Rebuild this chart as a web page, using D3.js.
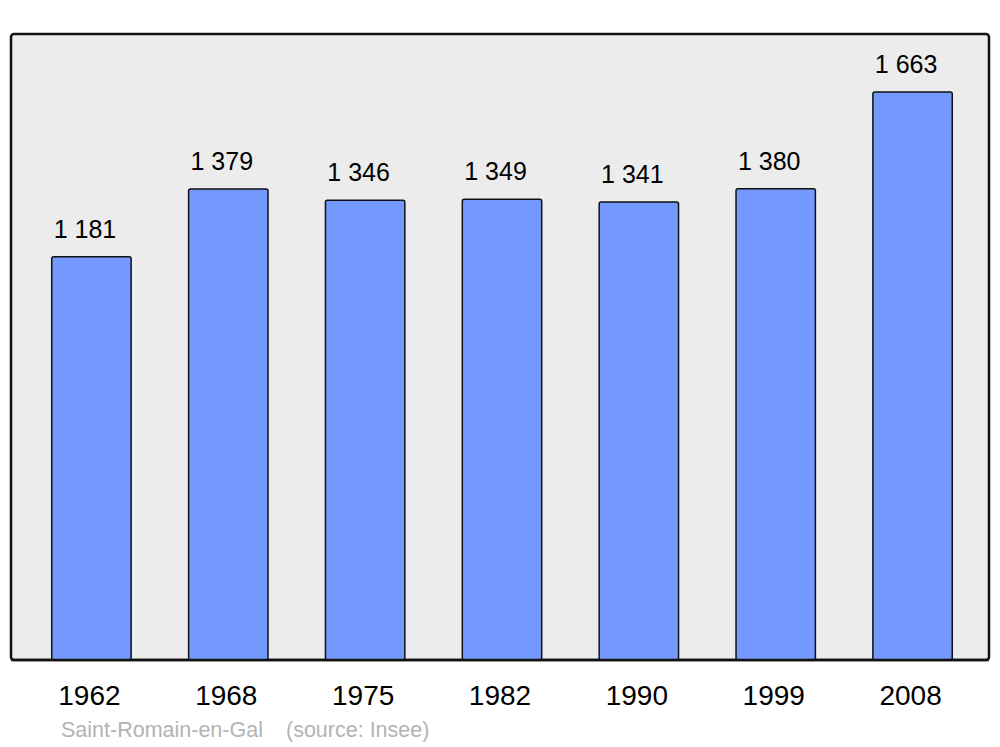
<!DOCTYPE html>
<html>
<head>
<meta charset="utf-8">
<script src="https://cdn.jsdelivr.net/npm/d3@7"></script>
<style>
html,body{margin:0;padding:0;background:#fff;}
svg{display:block;font-family:"Liberation Sans",Arial,sans-serif;}
</style>
</head>
<body>
<svg id="chart" width="1000" height="747"></svg>
<script>
const years = ["1962","1968","1975","1982","1990","1999","2008"];
const population = [1181,1379,1346,1349,1341,1380,1663];
const valueLabels = ["1 181","1 379","1 346","1 349","1 341","1 380","1 663"];
const townName = "Saint-Romain-en-Gal";
const sourceName = "(source: Insee)";

const svg = d3.select("#chart");
const frame = {left: 11, right: 989, top: 34, bottom: 660};

svg.append("rect")
  .attr("x", frame.left).attr("y", frame.top)
  .attr("width", frame.right - frame.left).attr("height", frame.bottom - frame.top)
  .attr("rx", 3).attr("ry", 3)
  .attr("fill", "#ececec").attr("stroke", "#111").attr("stroke-width", 2.5);

const x = d3.scaleBand().domain(years).range([23, 981]).paddingInner(0.42).paddingOuter(0.21);
const y = d3.scaleLinear().domain([0, 1833]).range([frame.bottom, frame.top]);

const data = years.map((yr, i) => ({year: yr, value: population[i], label: valueLabels[i]}));

svg.append("g").selectAll("rect").data(data).join("rect")
  .attr("x", d => x(d.year))
  .attr("y", d => y(d.value))
  .attr("width", x.bandwidth())
  .attr("height", d => y(0) - y(d.value))
  .attr("rx", 2).attr("ry", 2)
  .attr("fill", "#7399ff").attr("stroke", "#111").attr("stroke-width", 1.5);

svg.append("g").selectAll("text").data(data).join("text")
  .attr("x", d => x(d.year) + x.bandwidth() / 2 - 6.5)
  .attr("y", d => y(d.value) - 19)
  .attr("text-anchor", "middle")
  .attr("font-size", 25)
  .attr("fill", "#000")
  .text(d => d.label);

svg.append("line")
  .attr("x1", frame.left).attr("x2", frame.right)
  .attr("y1", frame.bottom).attr("y2", frame.bottom)
  .attr("stroke", "#111").attr("stroke-width", 2.5);

const xAxis = d3.axisBottom(x).tickSize(0).tickPadding(0);
const gx = svg.append("g").attr("transform", `translate(0,${frame.bottom})`).call(xAxis);
gx.select(".domain").remove();
gx.selectAll("text")
  .attr("x", -2)
  .attr("y", 45).attr("dy", null)
  .attr("font-size", 28)
  .attr("font-family", "Liberation Sans, Arial, sans-serif")
  .attr("fill", "#000");

svg.append("text")
  .attr("x", 61).attr("y", 737)
  .attr("font-size", 21.5)
  .attr("fill", "#b3b3b3")
  .text(townName);
svg.append("text")
  .attr("x", 286).attr("y", 737)
  .attr("font-size", 21.5)
  .attr("fill", "#b3b3b3")
  .text(sourceName);
</script>
</body>
</html>
